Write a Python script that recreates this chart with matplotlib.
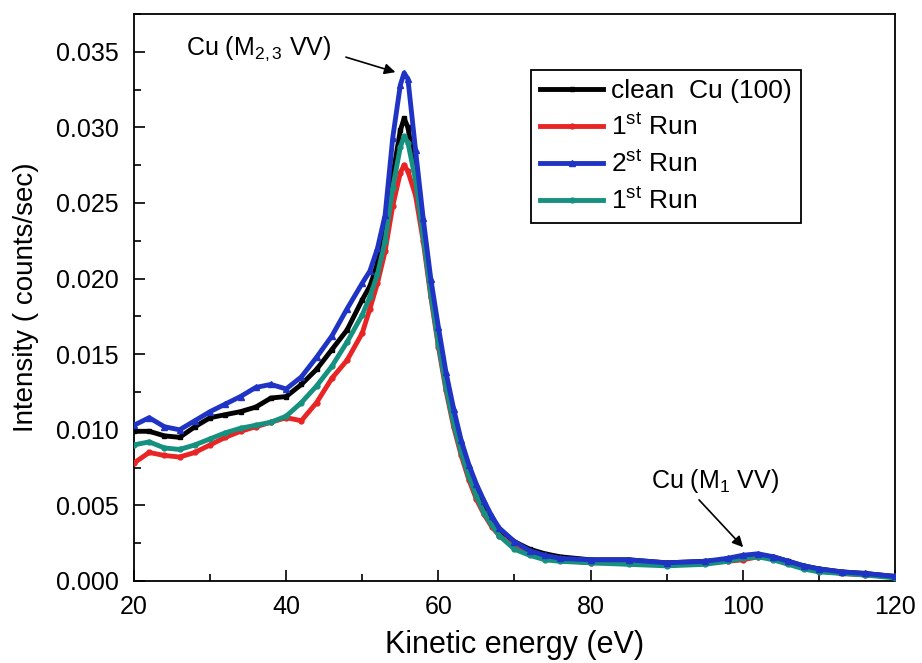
import matplotlib.pyplot as plt
from matplotlib.ticker import MultipleLocator

plt.rcParams['font.family'] = ['Liberation Sans', 'DejaVu Sans']
plt.rcParams['mathtext.fontset'] = 'custom'
plt.rcParams['mathtext.rm'] = 'Liberation Sans'
plt.rcParams['mathtext.it'] = 'Liberation Sans'

# kinetic energy (eV)
energy = [20, 22, 24, 26, 28, 30, 32, 34, 36, 38, 40, 42, 44, 46, 48, 50, 51, 52,
          53, 54, 55, 55.5, 56, 57, 58, 59, 60, 61, 62, 63, 64, 65, 66, 67, 68,
          70, 72, 74, 76, 80, 85, 90, 95, 98, 100, 102, 104, 106, 108, 110, 113,
          116, 120]

clean_cu = [.0099, .0099, .0096, .0095, .0102, .0108, .0110, .0112, .0115, .0121,
            .0122, .0130, .0140, .0153, .0166, .0186, .0195, .0210, .0230, .0268,
            .0298, .0306, .0300, .0270, .0230, .0192, .0160, .0132, .0108, .0088,
            .0072, .0059, .0048, .0040, .0034, .0026, .0021, .0018, .0016, .0014,
            .0014, .0012, .0013, .0014, .0016, .0017, .0016, .0013, .0010, .0008,
            .0006, .0005, .0003]

run1 = [.0078, .0085, .0083, .0082, .0085, .0090, .0095, .0099, .0102, .0105,
        .0108, .0106, .0118, .0134, .0146, .0164, .0180, .0197, .0218, .0248,
        .0270, .0275, .0271, .0255, .0225, .0188, .0155, .0126, .0102, .0083,
        .0067, .0054, .0044, .0036, .0030, .0022, .0018, .0015, .0014, .0012,
        .0012, .0011, .0012, .0013, .0014, .0016, .0015, .0012, .0009, .0007,
        .0005, .0004, .0003]

run2 = [.0103, .0108, .0102, .0100, .0106, .0112, .0117, .0122, .0128, .0130,
        .0127, .0135, .0148, .0162, .0180, .0197, .0205, .0220, .0242, .0293,
        .0328, .0336, .0332, .0285, .0240, .0200, .0168, .0138, .0114, .0093,
        .0077, .0064, .0053, .0043, .0035, .0026, .0020, .0017, .0015, .0014,
        .0014, .0012, .0013, .0015, .0017, .0018, .0016, .0013, .0010, .0008,
        .0006, .0005, .0003]

run1b = [.0090, .0092, .0088, .0087, .0090, .0094, .0098, .0101, .0103, .0105,
         .0109, .0118, .0129, .0142, .0158, .0176, .0188, .0203, .0225, .0260,
         .0287, .0294, .0290, .0265, .0228, .0190, .0157, .0128, .0104, .0085,
         .0069, .0056, .0045, .0037, .0030, .0021, .0017, .0014, .0013, .0012,
         .0011, .0010, .0011, .0013, .0015, .0016, .0014, .0011, .0008, .0006,
         .0005, .0004, .0002]

labels = ['clean  Cu (100)', r'1$^{\mathrm{st}}$ Run', r'2$^{\mathrm{st}}$ Run',
          r'1$^{\mathrm{st}}$ Run']

fig = plt.figure(figsize=(9.22, 6.63), dpi=100)
ax = fig.add_axes([0.1453, 0.1237, 0.8254, 0.8552])

ax.plot(energy, clean_cu, color='black', lw=3.5, marker='s', ms=3.5, label=labels[0], zorder=3)
ax.plot(energy, run1, color='#e82424', lw=3.5, marker='o', ms=3.5, label=labels[1], zorder=3)
ax.plot(energy, run2, color='#1f34c4', lw=3.5, marker='^', ms=4.5, label=labels[2], zorder=5)
ax.plot(energy, run1b, color='#17917f', lw=3.5, marker='o', ms=3.5, label=labels[3], zorder=4)

ax.set_xlim(20, 120)
ax.set_ylim(0, 0.0375)
ax.xaxis.set_major_locator(MultipleLocator(20))
ax.xaxis.set_minor_locator(MultipleLocator(10))
ax.yaxis.set_major_locator(MultipleLocator(0.005))
ax.yaxis.set_minor_locator(MultipleLocator(0.0025))
ax.yaxis.set_major_formatter(plt.FormatStrFormatter('%.3f'))
ax.tick_params(which='both', direction='in', labelsize=18, top=False, right=False)
ax.tick_params(which='major', length=8, width=1.2)
ax.tick_params(axis='y', which='major', pad=11)
ax.tick_params(axis='x', which='major', pad=10)
ax.tick_params(which='minor', length=5, width=1.2)
for s in ax.spines.values():
    s.set_linewidth(1.3)

ax.set_xlabel('Kinetic energy (eV)', fontsize=22, labelpad=8)
ax.set_ylabel('Intensity ( counts/sec)', fontsize=20, labelpad=12)

leg = ax.legend(loc='upper right', bbox_to_anchor=(0.894, 0.925), fontsize=19,
                fancybox=False, edgecolor='black', framealpha=1, handlelength=2.4,
                handletextpad=0.3, borderpad=0.35, labelspacing=0.42)
leg.get_frame().set_linewidth(1.3)

# peak annotations
ax.text(36.4, 0.0352, r'Cu (M$_{2,3}$ VV)', fontsize=18, ha='center', va='center')
ax.annotate('', xy=(54.7, 0.0336), xytext=(47.5, 0.0347),
            arrowprops=dict(arrowstyle='-|>', color='black', lw=1.2, mutation_scale=16))
ax.text(96.3, 0.0066, r'Cu (M$_1$ VV)', fontsize=18, ha='center', va='center')
ax.annotate('', xy=(100.3, 0.0021), xytext=(94.0, 0.0055),
            arrowprops=dict(arrowstyle='-|>', color='black', lw=1.2, mutation_scale=16))

fig.savefig('out.png', dpi=100)
